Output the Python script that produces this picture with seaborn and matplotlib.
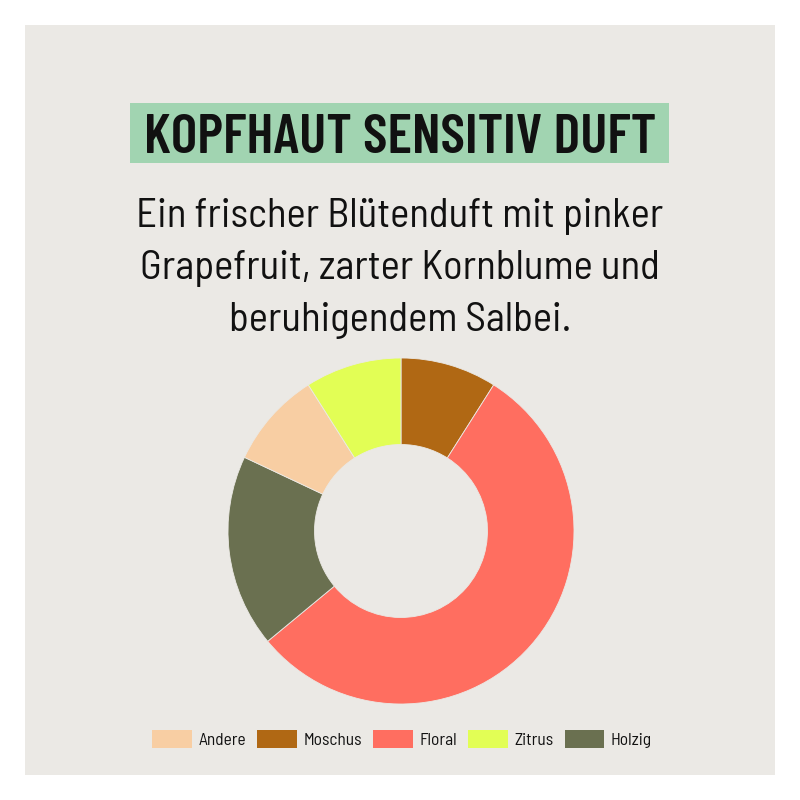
import matplotlib
matplotlib.use("Agg")
import matplotlib.pyplot as plt
from matplotlib.patches import Rectangle, Patch
from matplotlib import font_manager as fm
import seaborn as sns

# ---- data ----
legend_labels = ["Andere", "Moschus", "Floral", "Zitrus", "Holzig"]
legend_colors = ["#f8cea3", "#b06814", "#ff6e60", "#e2fe55", "#6a7050"]
pie_order = ["Moschus", "Floral", "Holzig", "Andere", "Zitrus"]
pie_values = [9, 55, 18, 9, 9]

title = "KOPFHAUT SENSITIV DUFT"
subtitle_lines = ["Ein frischer Blütenduft mit pinker",
                  "Grapefruit, zarter Kornblume und",
                  "beruhigendem Salbei."]

installed = set(f.name for f in fm.fontManager.ttflist)

def pick(prefs):
    for p in prefs:
        if p in installed:
            return p
    return "DejaVu Sans"

title_font = pick(["Barlow Condensed", "Bebas Neue", "Oswald", "Roboto Condensed",
                   "Fjalla One", "Liberation Sans Narrow"])
body_font = pick(["Saira Semi Condensed", "Barlow Semi Condensed", "Roboto Condensed",
                  "Asap Condensed", "Liberation Sans Narrow", "Roboto"])

sns.set_theme(style="white")
plt.rcParams['font.family'] = [body_font, 'DejaVu Sans']

W = H = 800
fig = plt.figure(figsize=(8, 8), dpi=100, facecolor="white")
BG = "#ebe9e5"

def fx(x):
    return x / W

def fy(y):
    return 1 - y / H

# gray panel
fig.patches.append(Rectangle((fx(25), fy(775)), 750 / W, 750 / H,
                             transform=fig.transFigure, facecolor=BG,
                             edgecolor="none", zorder=-2))
# title box
fig.patches.append(Rectangle((fx(130), fy(163)), (669 - 130) / W, 60 / H,
                             transform=fig.transFigure, facecolor="#a1d4b1",
                             edgecolor="none", zorder=-1))

renderer = fig.canvas.get_renderer()

def fit_text(s, x, y, target_w, size, **kw):
    t = fig.text(fx(x), fy(y), s, fontsize=size, ha="center", va="baseline",
                 color="#111111", **kw)
    w = t.get_window_extent(renderer=renderer).width
    t.set_fontsize(size * target_w / w)
    return t

t = fit_text(title, 400, 153, 512, 40, fontweight="semibold",
             family=[title_font, "DejaVu Sans"])
t.set_zorder(3)

s1 = fit_text(subtitle_lines[0], 400, 227, 528, 27)
sz = s1.get_fontsize()
fig.text(fx(400), fy(279), subtitle_lines[1], fontsize=sz, ha="center",
         va="baseline", color="#111111")
fig.text(fx(400), fy(331), subtitle_lines[2], fontsize=sz, ha="center",
         va="baseline", color="#111111")

# donut
cx, cy, r = 401, 531, 173
ax = fig.add_axes([fx(cx - r), fy(cy + r), 2 * r / W, 2 * r / H])
ax.set_zorder(2)
ax.set_facecolor("none")
ax.patch.set_alpha(0)
cmap = dict(zip(legend_labels, legend_colors))
ax.pie(pie_values, colors=[cmap[k] for k in pie_order], startangle=90,
       counterclock=False, radius=1,
       wedgeprops=dict(width=0.5, edgecolor=BG, linewidth=0.6))
ax.set_xlim(-1, 1)
ax.set_ylim(-1, 1)
ax.set_aspect("equal")
ax.axis("off")

handles = [Patch(facecolor=c, edgecolor="none") for c in legend_colors]
fig.legend(handles, legend_labels, loc="center", bbox_to_anchor=(fx(402), fy(739)),
           ncol=5, frameon=False, fontsize=12.5, handlelength=2.3,
           handleheight=1.25, handletextpad=0.35, columnspacing=0.65,
           labelcolor="#111111")

fig.savefig("out.png", dpi=100, facecolor="white")
